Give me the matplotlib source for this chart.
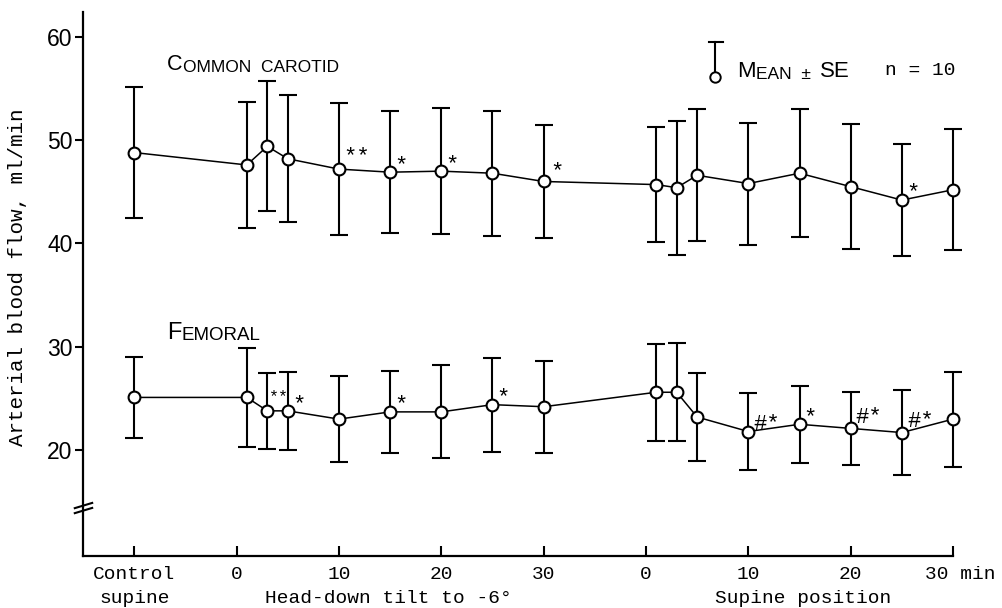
import matplotlib.pyplot as plt
import matplotlib.transforms as mtransforms

# time points: control, head-down tilt minutes, supine minutes
control_x = -10
tilt_min = [1, 3, 5, 10, 15, 20, 25, 30]
supine_min = [1, 3, 5, 10, 15, 20, 25, 30]
supine_start = 40  # supine phase is drawn after the 30-min tilt

carotid_mean = [48.8, 47.6, 49.4, 48.2, 47.2, 46.9, 47.0, 46.8, 46.0,
                45.7, 45.4, 46.6, 45.8, 46.8, 45.5, 44.2, 45.2]
carotid_se = [6.3, 6.1, 6.3, 6.15, 6.35, 5.9, 6.1, 6.05, 5.45,
              5.6, 6.5, 6.4, 5.9, 6.2, 6.05, 5.45, 5.85]
femoral_mean = [25.1, 25.1, 23.8, 23.8, 23.0, 23.7, 23.7, 24.4, 24.2,
                25.6, 25.6, 23.2, 21.8, 22.5, 22.1, 21.7, 23.0]
femoral_se = [3.95, 4.8, 3.65, 3.75, 4.15, 4.0, 4.5, 4.55, 4.45,
              4.7, 4.75, 4.25, 3.75, 3.75, 3.55, 4.1, 4.6]

carotid_sig = ['', '', '', '', '**', '*', '*', '', '*',
               '', '', '', '', '', '', '*', '']
femoral_sig = ['', '', '**', '*', '', '*', '', '*', '',
               '', '', '', '#*', '*', '#*', '#*', '']

tick_pos = [-10, 0, 10, 20, 30, 40, 50, 60, 70]
tick_labels = ['Control', '0', '10', '20', '30', '0', '10', '20', '']

MONO = ['Liberation Mono', 'DejaVu Sans Mono']
SANS = ['Liberation Sans', 'DejaVu Sans']

x = [control_x] + tilt_min + [supine_start + m for m in supine_min]

fig = plt.figure(figsize=(10.03, 6.08), dpi=100)
ax = fig.add_axes([0.0828, 0.0855, 0.8674, 0.8947])
ax.set_xlim(-15, 70)
ax.set_ylim(9.75, 62.4)

for sp in ['top', 'right']:
    ax.spines[sp].set_visible(False)
for sp in ['left', 'bottom']:
    ax.spines[sp].set_linewidth(1.6)

ax.set_yticks([20, 30, 40, 50, 60])
ax.tick_params(axis='y', direction='out', length=6, width=1.5, pad=1.5)
for lab in ax.get_yticklabels():
    lab.set_fontfamily(SANS)
    lab.set_fontsize(16.5)

XPAD = 7.5
ax.set_xticks(tick_pos)
ax.set_xticklabels(tick_labels, fontfamily=MONO, fontsize=14)
ax.tick_params(axis='x', direction='in', length=7, width=1.5, pad=XPAD)


def draw_series(mean, se, sig, overrides):
    ax.errorbar(x, mean, yerr=se, fmt='none', ecolor='black',
                elinewidth=1.5, capsize=6.5, capthick=1.5, zorder=2,
                clip_on=False)
    ax.plot(x, mean, '-o', color='black', lw=1.1, ms=8.5,
            mfc='white', mec='black', mew=1.5, zorder=3, clip_on=False)
    for i, s in enumerate(sig):
        if not s:
            continue
        dx, dy, size, ha = overrides.get(i, (3, 5, 16, 'left'))
        ax.annotate(s, (x[i], mean[i]), xytext=(dx, dy),
                    textcoords='offset points', ha=ha, va='center',
                    fontfamily=MONO, fontsize=size, zorder=4)


draw_series(carotid_mean, carotid_se, carotid_sig,
            {4: (3, 9, 16, 'left'), 8: (4.5, 7, 16, 'left')})
draw_series(femoral_mean, femoral_se, femoral_sig,
            {2: (8.5, 10, 12, 'center'), 3: (3.5, 4.5, 16, 'left'),
             12: (3.5, 5, 16, 'left'), 14: (3.5, 7.5, 16, 'left'),
             15: (4, 8, 16, 'left')})


def small_caps(x0, y0, parts, trans):
    # parts: (text, size); each piece continues at the right edge of the previous one
    prev = ax.text(x0, y0, parts[0][0], fontsize=parts[0][1], fontfamily=SANS,
                   transform=trans, ha='left', va='bottom')
    for txt, size in parts[1:]:
        prev = ax.annotate(txt, xy=(1, 0), xycoords=prev, ha='left',
                           va='bottom', fontsize=size, fontfamily=SANS)
    return prev


small_caps(0.0966, 0.885, [('C', 15.5), ('OMMON  CAROTID', 12.5)], ax.transAxes)
small_caps(0.0966, 0.390, [('F', 17), ('EMORAL', 13.5)], ax.transAxes)
small_caps(0.7517, 0.872, [('M', 16), ('EAN  ±  ', 12.5), ('SE', 16)], ax.transAxes)
ax.text(0.9218, 0.884, 'n = 10', transform=ax.transAxes, fontfamily=MONO,
        fontsize=14, ha='left', va='baseline')

# legend glyph: one error bar with its open circle
lx = 0.7264
ax.plot([lx, lx], [0.9449, 0.8897], color='black', lw=1.5,
        transform=ax.transAxes, clip_on=False)
ax.plot([0.7195, 0.7356], [0.9449, 0.9449], color='black', lw=1.5,
        transform=ax.transAxes, clip_on=False)
ax.plot([lx], [0.8805], 'o', ms=7.5, mfc='white', mec='black', mew=1.4,
        transform=ax.transAxes, clip_on=False)

# axis break on the y axis
for yc in (0.0928, 0.0836):
    ax.plot([-0.0095, 0.0105], [yc - 0.0048, yc + 0.0048], color='black',
            lw=1.5, transform=ax.transAxes, clip_on=False)

# second row of x-axis labels
bx = mtransforms.blended_transform_factory(ax.transData, ax.transAxes)
row2 = -0.086
ax.text(control_x, row2, 'supine', transform=bx, ha='center', va='baseline',
        fontfamily=MONO, fontsize=14)
ax.text(14.8, row2, 'Head-down tilt to -6°', transform=bx, ha='center',
        va='baseline', fontfamily=MONO, fontsize=14)
ax.text(55.4, row2, 'Supine position', transform=bx, ha='center',
        va='baseline', fontfamily=MONO, fontsize=14)
# last tick label carries the unit, so it sits left-aligned near the tick
ax.annotate('30 min', xy=(tick_pos[-1], 0), xycoords=bx, xytext=(-20, -XPAD),
            textcoords='offset points', ha='left', va='top',
            fontfamily=MONO, fontsize=14, annotation_clip=False)

fig.text(18 / 1003, 1 - 277 / 608, 'Arterial blood flow, ml/min', rotation=90,
         ha='center', va='center', fontfamily=MONO, fontsize=15)

fig.savefig('out.png', dpi=100)
